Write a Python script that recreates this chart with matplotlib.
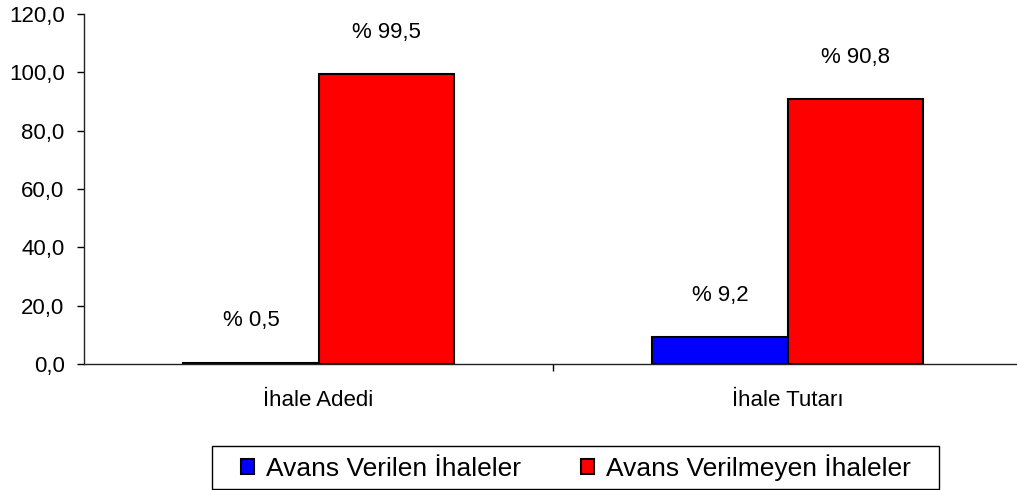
import numpy as np
import matplotlib
matplotlib.use("Agg")
import matplotlib.pyplot as plt
from matplotlib.patches import Rectangle
from matplotlib.ticker import FuncFormatter

# data
categories = ["İhale Adedi", "İhale Tutarı"]
series_names = ["Avans Verilen İhaleler", "Avans Verilmeyen İhaleler"]
verilen = [0.5, 9.2]
verilmeyen = [99.5, 90.8]
colors = ["#0000ff", "#ff0000"]
yticks = [0, 20, 40, 60, 80, 100, 120]

plt.rcParams['font.family'] = ['Liberation Sans', 'DejaVu Sans']

def comma(v, pos=None):
    return f"{v:.1f}".replace(".", ",")

def main():
    fig = plt.figure(figsize=(10.17, 4.9), dpi=100)
    ax = fig.add_axes([84/1017, 126/490, 938/1017, 350/490])

    x = np.arange(len(categories))
    w = 0.288
    for i, (vals, name) in enumerate(zip([verilen, verilmeyen], series_names)):
        xs = x + (i - 0.5) * w
        ax.bar(xs, vals, width=w, color=colors[i], edgecolor="black",
               linewidth=1.5, label=name, zorder=2)
        for xi, v in zip(xs, vals):
            ax.annotate("% " + comma(v), xy=(xi, v), xytext=(0, 30),
                        textcoords="offset points", ha="center", va="center",
                        fontsize=16)

    ax.set_xlim(-0.5, 1.5)
    ax.set_ylim(0, 120)
    ax.set_yticks(yticks)
    ax.yaxis.set_major_formatter(FuncFormatter(comma))
    ax.tick_params(axis="y", direction="out", length=5, width=1, pad=9,
                   labelsize=16)

    ax.set_xticks(x)
    ax.set_xticklabels(categories)
    ax.tick_params(axis="x", which="major", length=0, pad=18.5, labelsize=16)
    ax.set_xticks([0.5], minor=True)
    ax.tick_params(axis="x", which="minor", direction="out", length=5, width=1)

    for s in ["top", "right"]:
        ax.spines[s].set_visible(False)
    for s in ["left", "bottom"]:
        ax.spines[s].set_linewidth(1)
        ax.spines[s].set_color("#222222")

    # legend at the bottom with its own box
    handles, labels = ax.get_legend_handles_labels()
    fig.legend(handles, labels, loc="center", bbox_to_anchor=(576/1017, 22.5/490),
               ncol=2, frameon=False, fontsize=19, handlelength=0.5,
               handleheight=0.5, handletextpad=0.45, columnspacing=2.25,
               borderpad=0.2)
    fig.patches.append(Rectangle((212/1017, 1/490), 727/1017, 43/490,
                                 transform=fig.transFigure, fill=False,
                                 edgecolor="black", linewidth=1))

    fig.savefig("out.png", dpi=100)

if __name__ == "__main__":
    main()
